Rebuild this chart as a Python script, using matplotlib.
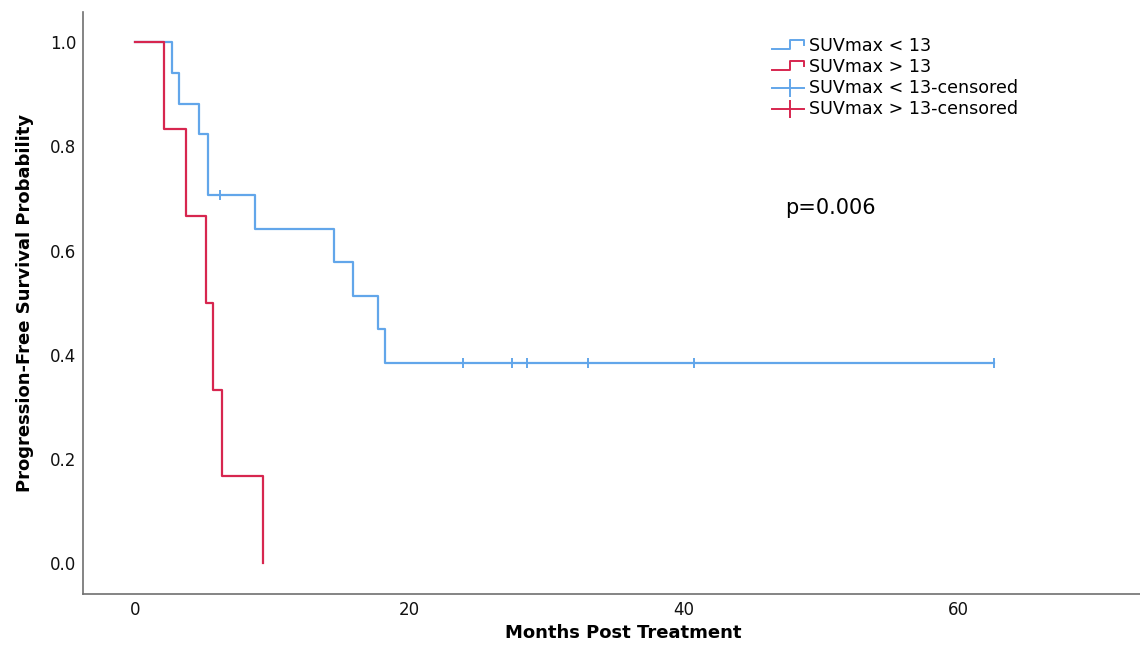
import matplotlib
matplotlib.use("Agg")
import matplotlib.pyplot as plt
from matplotlib.lines import Line2D
from matplotlib.legend_handler import HandlerBase

# Kaplan-Meier steps (months, survival)
low_times = [0, 2.67, 3.23, 4.68, 5.3, 8.77, 14.5, 15.9, 17.7, 18.2, 62.6]
low_surv = [1.0, 0.941, 0.882, 0.824, 0.706, 0.642, 0.578, 0.513, 0.449, 0.385, 0.385]
low_cens_t = [6.2, 23.9, 27.45, 28.56, 32.98, 40.7, 62.6]
low_cens_s = [0.706, 0.385, 0.385, 0.385, 0.385, 0.385, 0.385]

high_times = [0, 2.1, 3.7, 5.15, 5.7, 6.35, 9.3]
high_surv = [1.0, 0.833, 0.667, 0.5, 0.333, 0.167, 0.0]

labels = ["SUVmax < 13", "SUVmax > 13", "SUVmax < 13-censored", "SUVmax > 13-censored"]
x_ticks = [0, 20, 40, 60]
y_ticks = [0.0, 0.2, 0.4, 0.6, 0.8, 1.0]

blue = "#62A6EA"
red = "#D7264F"

plt.rcParams["font.family"] = ["DejaVu Sans"]

fig = plt.figure(figsize=(11.4, 6.47), dpi=100)
ax = fig.add_axes([83/1140, 1 - 594/647, 1080/1140, 582/647])

ax.step(low_times, low_surv, where="post", color=blue, lw=1.6)
ax.plot(low_cens_t, low_cens_s, ls="none", marker="|", ms=7, mew=1.4, color=blue)
ax.step(high_times, high_surv, where="post", color=red, lw=1.6)

ax.set_xlim(-3.79, 74.9)
ax.set_ylim(-0.059, 1.058)
ax.set_xticks(x_ticks)
ax.set_yticks(y_ticks)
ax.set_xticklabels([str(t) for t in x_ticks])
ax.set_yticklabels(["%.1f" % t for t in y_ticks])
ax.tick_params(length=0, labelsize=12, colors="#111111")
ax.tick_params(axis="x", pad=5)
ax.tick_params(axis="y", pad=5)

for s in ["top", "right"]:
    ax.spines[s].set_visible(False)
for s in ["left", "bottom"]:
    ax.spines[s].set_color("#707070")
    ax.spines[s].set_linewidth(1.2)

ax.set_xlabel("Months Post Treatment", fontsize=13, fontweight="bold")
ax.set_ylabel("Progression-Free Survival Probability", fontsize=13, fontweight="bold")
ax.xaxis.set_label_coords(0.5, -0.052)
ax.yaxis.set_label_coords(-0.045, 0.5)

ax.text(47.4, 0.682, "p=0.006", fontsize=15, va="center", ha="left")


class StepHandler(HandlerBase):
    def __init__(self, color, censored):
        super().__init__()
        self.color = color
        self.censored = censored

    def create_artists(self, legend, orig_handle, xdescent, ydescent, width, height, fontsize, trans):
        x0, y0 = -xdescent, -ydescent
        if self.censored:
            line = Line2D([x0, x0 + width], [y0 + height * 0.4] * 2, color=self.color, lw=1.4, transform=trans)
            tick = Line2D([x0 + width * 0.56], [y0 + height * 0.4], marker="|", ms=13, mew=1.4,
                          color=self.color, transform=trans)
            return [line, tick]
        xs = [x0, x0 + width * 0.56, x0 + width * 0.56, x0 + width, x0 + width]
        ys = [y0 + height * 0.15, y0 + height * 0.15, y0 + height * 0.9, y0 + height * 0.9, y0 + height * 0.5]
        return [Line2D(xs, ys, color=self.color, lw=1.4, transform=trans)]


handles = [object(), object(), object(), object()]
hmap = {handles[0]: StepHandler(blue, False), handles[1]: StepHandler(red, False),
        handles[2]: StepHandler(blue, True), handles[3]: StepHandler(red, True)}
fig.legend(handles, labels, handler_map=hmap, loc="upper left",
           bbox_to_anchor=(771.7/1140, 1 - 37/647), bbox_transform=fig.transFigure,
           frameon=False, fontsize=12.6, borderpad=0, borderaxespad=0,
           handlelength=1.85, handletextpad=0.28, labelspacing=0.17)

fig.savefig("out.png", dpi=100)
